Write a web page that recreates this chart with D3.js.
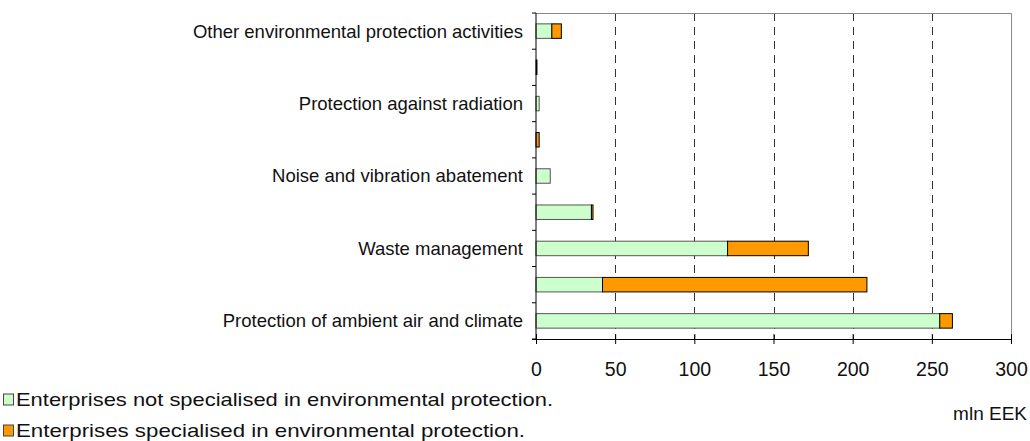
<!DOCTYPE html>
<html>
<head>
<meta charset="utf-8">
<script src="https://cdn.jsdelivr.net/npm/d3@7"></script>
<style>
  body { margin: 0; background: #fff; }
  text { font-family: "Liberation Sans", Arial, sans-serif; }
</style>
</head>
<body>
<div id="chart"></div>
<script>
// categories top to bottom; Excel only printed every other label
const categories = [
  "Other environmental protection activities",
  "Research and development",
  "Protection against radiation",
  "Protection of biodiversity and landscape",
  "Noise and vibration abatement",
  "Protection and remediation of soil, groundwater and surface water",
  "Waste management",
  "Wastewater management",
  "Protection of ambient air and climate"
];
const shownLabels = [true, false, true, false, true, false, true, false, true];
const notSpecialised = [10, 0.3, 2, 0, 9, 35, 121, 42, 255];
const specialised = [6, 0.3, 0, 2, 0, 1, 51, 167, 8];
const seriesNames = [
  "Enterprises not specialised in environmental protection.",
  "Enterprises specialised in environmental protection."
];
const xTicks = [0, 50, 100, 150, 200, 250, 300];

const width = 1030, height = 441;
const margin = { top: 13, right: 19, bottom: 102, left: 536 };
const svg = d3.select('#chart').append('svg')
  .attr('width', width)
  .attr('height', height);

const x = d3.scaleLinear()
  .domain([0, 300])
  .range([margin.left, width - margin.right]);

const y = d3.scaleBand()
  .domain(categories)
  .range([margin.top, height - margin.bottom])
  .paddingInner(0.6)
  .paddingOuter(0.3);

// dashed gridlines
svg.append('g')
  .selectAll('line')
  .data(xTicks.slice(1, -1))
  .join('line')
  .attr('x1', d => Math.round(x(d)) + 0.5).attr('x2', d => Math.round(x(d)) + 0.5)
  .attr('y1', margin.top).attr('y2', height - margin.bottom)
  .attr('stroke', '#333')
  .attr('stroke-dasharray', '8,6');

// plot border top and right
svg.append('path')
  .attr('d', `M${x(0)},${margin.top + 0.5}H${Math.round(x(300)) + 0.5}V${height - margin.bottom}`)
  .attr('fill', 'none')
  .attr('stroke', '#888');

// stacked bars
const rows = categories.map((c, i) => ({ cat: c, a: notSpecialised[i], b: specialised[i] }));
const bars = svg.append('g');
bars.selectAll('rect.a')
  .data(rows.filter(d => d.a > 0))
  .join('rect')
  .attr('class', 'a')
  .attr('x', x(0))
  .attr('y', d => y(d.cat))
  .attr('width', d => x(d.a) - x(0))
  .attr('height', y.bandwidth())
  .attr('fill', '#ccffcc')
  .attr('stroke', '#555')
  .attr('stroke-width', 1);
bars.selectAll('rect.b')
  .data(rows.filter(d => d.b > 0))
  .join('rect')
  .attr('class', 'b')
  .attr('x', d => x(d.a))
  .attr('y', d => y(d.cat))
  .attr('width', d => x(d.a + d.b) - x(d.a))
  .attr('height', y.bandwidth())
  .attr('fill', '#ff9900')
  .attr('stroke', '#000')
  .attr('stroke-width', 1);

// y axis: line plus outward ticks at band boundaries
const yAxisG = svg.append('g');
yAxisG.append('line')
  .attr('x1', x(0)).attr('x2', x(0))
  .attr('y1', margin.top).attr('y2', height - margin.bottom)
  .attr('stroke', '#000');
const step = y.step();
yAxisG.selectAll('line.tk')
  .data(d3.range(categories.length + 1))
  .join('line')
  .attr('class', 'tk')
  .attr('x1', x(0) - 4).attr('x2', x(0))
  .attr('y1', i => margin.top + i * step)
  .attr('y2', i => margin.top + i * step)
  .attr('stroke', '#000');
yAxisG.selectAll('text')
  .data(categories.filter((c, i) => shownLabels[i]))
  .join('text')
  .attr('x', x(0) - 13)
  .attr('y', d => y(d) + y.bandwidth() / 2)
  .attr('dy', '0.35em')
  .attr('text-anchor', 'end')
  .attr('font-size', 18.5)
  .attr('fill', '#111')
  .text(d => d);

// x axis
const xAxis = d3.axisBottom(x)
  .tickValues(xTicks)
  .tickSize(5)
  .tickPadding(18)
  .tickFormat(d3.format('d'));
const xg = svg.append('g')
  .attr('transform', `translate(0,${height - margin.bottom})`)
  .call(xAxis);
xg.select('.domain').attr('d', `M${x(0) - 4},0.5H${x(300)}`).attr('stroke', '#000');
xg.selectAll('.tick line').attr('stroke', '#000').attr('y1', -5).attr('y2', 5);
xg.selectAll('.tick text')
  .attr('font-size', 19.5)
  .attr('fill', '#111')
  .style('font-family', '"Liberation Sans", Arial, sans-serif');

svg.append('text')
  .attr('x', 1027)
  .attr('y', 413)
  .attr('dy', '0.35em')
  .attr('text-anchor', 'end')
  .attr('font-size', 19)
  .attr('fill', '#111')
  .text('mln EEK');

// legend
const colors = ['#ccffcc', '#ff9900'];
const legendWidths = [537, 509];
const legend = svg.append('g');
seriesNames.forEach((name, i) => {
  const ly = 399.5 + i * 31;
  legend.append('rect')
    .attr('x', 3.5).attr('y', ly - 5.5)
    .attr('width', 10).attr('height', 11)
    .attr('fill', colors[i])
    .attr('stroke', '#444');
  legend.append('text')
    .attr('x', 16)
    .attr('y', ly)
    .attr('dy', '0.35em')
    .attr('font-size', 19)
    .attr('fill', '#111')
    .attr('textLength', legendWidths[i])
    .attr('lengthAdjust', 'spacingAndGlyphs')
    .text(name);
});
</script>
</body>
</html>
